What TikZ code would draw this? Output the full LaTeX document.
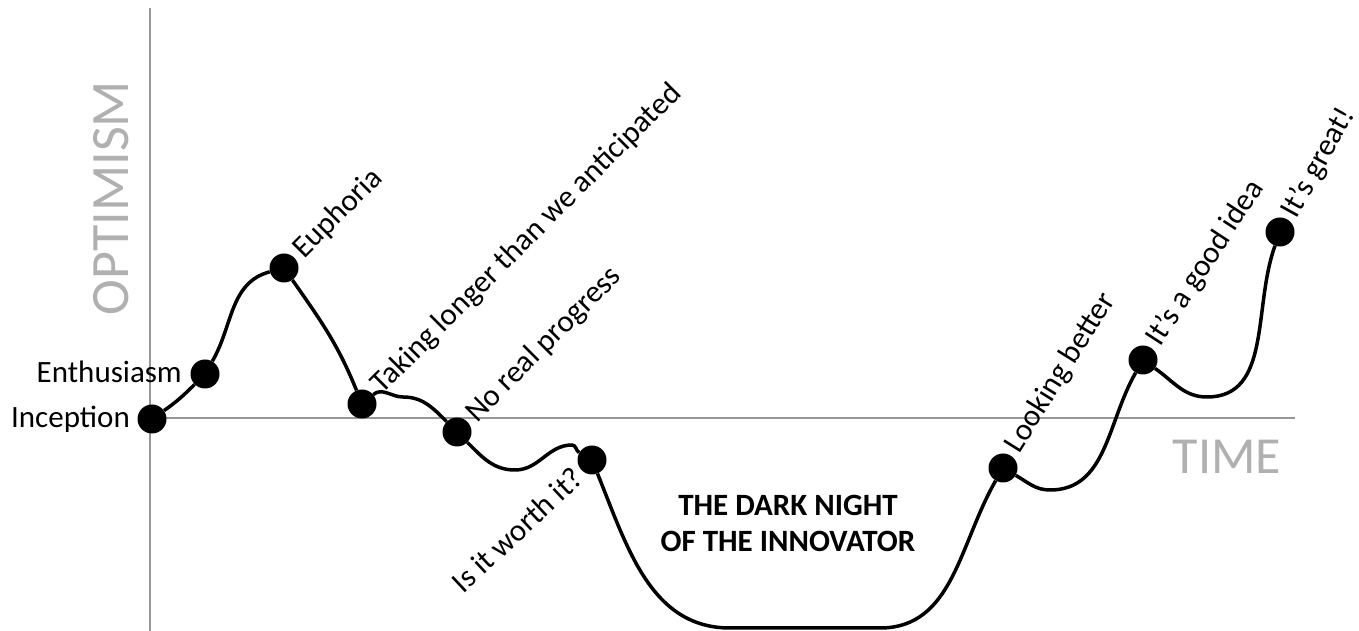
\documentclass[tikz,border=0pt]{standalone}
\usepackage{fontspec}
\setmainfont{Carlito}
\usepackage{tikz}
\usetikzlibrary{calc}

\begin{document}
\begin{tikzpicture}[x=1pt,y=1pt,
  dot/.style={circle,fill=black,inner sep=0pt,minimum size=29pt},
  lbl/.style={font=\fontsize{31}{36}\selectfont,inner sep=0pt}]
\definecolor{ax}{RGB}{150,150,150}
\useasboundingbox (0,0) rectangle (1359,631);
% axes
\draw[ax,line width=1.5pt] (150,623) -- (150,0);
\draw[ax,line width=1.5pt] (150,213) -- (1295,213);
\node[ax!75,rotate=90,inner sep=0pt,font=\fontsize{54}{60}\selectfont] (yaxis) at (111,433) {OPTIMISM};
\node[ax!75,inner sep=0pt,font=\fontsize{52}{60}\selectfont] (xaxis) at (1227,174) {TIME};
% stages
\node[dot] (inc) at (152,212) {};
\node[dot] (ent) at (205,257) {};
\node[dot] (eup) at (284,363) {};
\node[dot] (tak) at (362,227) {};
\node[dot] (nrp) at (457,199) {};
\node[dot] (wor) at (592,171) {};
\node[dot] (lkb) at (1003,163) {};
\node[dot] (god) at (1143,271) {};
\node[dot] (grt) at (1280,399) {};
\coordinate (b1) at (403,234);
\coordinate (v1) at (515,161);
\coordinate (b2) at (572,186);
\coordinate (bl) at (730,3);
\coordinate (br) at (880,3);
\coordinate (v2) at (1050,141);
\coordinate (v3) at (1207,234);
% curve
\draw[line width=3.5pt] (inc) to[out=35,in=225] (ent) to[out=60,in=195] (eup)
  to[out=-55,in=112] (tak) to[out=40,in=180] (b1) to[out=0,in=135] (nrp)
  to[out=-45,in=180] (v1) to[out=0,in=180] (b2) to[out=0,in=150] (wor)
  to[out=-68,in=180] (bl) -- (br) to[out=0,in=-120] (lkb)
  to[out=-30,in=180] (v2) to[out=0,in=240] (god)
  to[out=-35,in=180] (v3) to[out=0,in=-110] (grt);
% labels
\node[lbl,anchor=base east] (incl) at (130,203) {Inception};
\node[lbl,anchor=base east] (entl) at (182,248) {Enthusiasm};
\node[lbl,anchor=west,rotate=45] (eupl) at ($(eup)+(45:20)$) {Euphoria};
\node[lbl,anchor=west,rotate=45] (takl) at ($(tak)+(45:21)$) {Taking longer than we anticipated};
\node[lbl,anchor=west,rotate=45] (nrpl) at ($(nrp)+(45:20)$) {No real progress};
\node[lbl,anchor=east,rotate=43] (worl) at ($(wor)+(223:19)$) {Is it worth it?};
\node[lbl,anchor=west,rotate=58] (lkbl) at ($(lkb)+(62:20)$) {Looking better};
\node[lbl,anchor=west,rotate=57] (godl) at ($(god)+(58:20)$) {It’s a good idea};
\node[lbl,anchor=west,rotate=61] (grtl) at ($(grt)+(60:19)$) {It’s great!};
\node[lbl,font=\bfseries\fontsize{31}{36}\selectfont,align=center] (night) at (788,108) {THE DARK NIGHT\\OF THE INNOVATOR};
\end{tikzpicture}
\end{document}
